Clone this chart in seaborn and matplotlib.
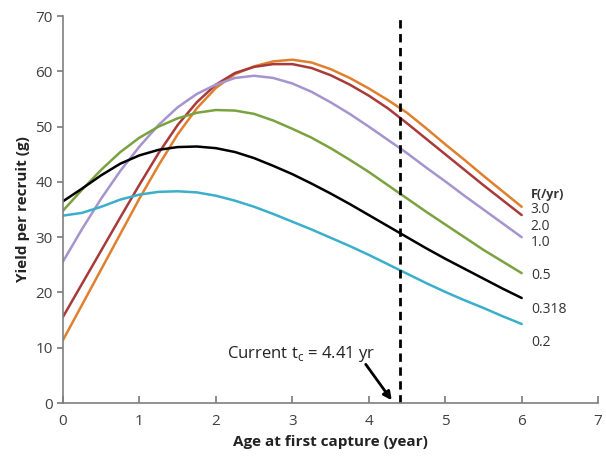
import matplotlib
matplotlib.use("Agg")
import matplotlib.pyplot as plt
import seaborn as sns
import pandas as pd

ages = [0, 0.25, 0.5, 0.75, 1, 1.25, 1.5, 1.75, 2, 2.25, 2.5, 2.75, 3,
        3.25, 3.5, 3.75, 4, 4.25, 4.5, 4.75, 5, 5.25, 5.5, 5.75, 6]
f_3_0 = [11.4, 17.8, 24.2, 30.6, 37.0, 43.0, 48.6, 53.3, 57.0, 59.5, 60.9, 61.8, 62.1,
         61.6, 60.4, 58.8, 56.9, 54.8, 52.5, 49.7, 46.8, 44.0, 41.1, 38.3, 35.5]
f_2_0 = [15.6, 21.6, 27.6, 33.6, 39.5, 45.2, 50.3, 54.4, 57.6, 59.7, 60.8, 61.3, 61.3,
         60.6, 59.3, 57.6, 55.6, 53.3, 50.6, 47.8, 45.0, 42.2, 39.4, 36.7, 34.0]
f_1_0 = [25.6, 31.5, 37.0, 42.0, 46.4, 50.3, 53.5, 55.9, 57.6, 58.8, 59.2, 58.8, 57.8,
         56.3, 54.4, 52.3, 50.0, 47.6, 45.2, 42.6, 40.1, 37.5, 35.0, 32.5, 30.0]
f_0_5 = [34.8, 38.6, 42.2, 45.4, 48.0, 50.0, 51.5, 52.5, 53.0, 52.9, 52.3, 51.1, 49.6,
         48.0, 46.1, 44.0, 41.8, 39.4, 37.0, 34.6, 32.3, 30.0, 27.7, 25.6, 23.5]
f_0_318 = [36.5, 38.8, 41.2, 43.3, 44.8, 45.8, 46.3, 46.4, 46.1, 45.4, 44.3, 42.9, 41.4,
           39.7, 37.9, 36.0, 34.0, 32.0, 30.0, 28.0, 26.1, 24.3, 22.5, 20.7, 19.0]
f_0_2 = [33.9, 34.4, 35.5, 36.8, 37.7, 38.2, 38.3, 38.1, 37.5, 36.6, 35.5, 34.2, 32.8,
         31.4, 29.9, 28.4, 26.8, 25.1, 23.4, 21.7, 20.1, 18.6, 17.2, 15.7, 14.3]

series_names = ["3.0", "2.0", "1.0", "0.5", "0.318", "0.2"]
series_vals = [f_3_0, f_2_0, f_1_0, f_0_5, f_0_318, f_0_2]
colors = ["#E0802F", "#A83A3A", "#A594CE", "#7BA23F", "#000000", "#3AAFCB"]
label_y = [35.0, 32.0, 29.0, 23.0, 17.0, 11.0]
current_tc = 4.41

sns.set_theme(style="white")
plt.rcParams['font.family'] = ['Open Sans', 'DejaVu Sans']

rows = []
for name, vals in zip(series_names, series_vals):
    for a, v in zip(ages, vals):
        rows.append({"age": a, "ypr": v, "F": name})
df = pd.DataFrame(rows)

fig = plt.figure(figsize=(6.06, 4.58), dpi=100)
ax = fig.add_axes([0.104, 0.12, 0.883, 0.845])

sns.lineplot(data=df, x="age", y="ypr", hue="F", palette=dict(zip(series_names, colors)),
             hue_order=series_names, linewidth=1.8, legend=False, ax=ax)

ax.axvline(current_tc, color="black", linestyle=(0, (3, 2)), linewidth=2)

ax.set_xlim(0, 7)
ax.set_ylim(0, 70)
ax.set_xticks(range(0, 8))
ax.set_yticks(range(0, 71, 10))
ax.set_xlabel("Age at first capture (year)", fontsize=11, fontweight="bold", color="#222222")
ax.set_ylabel("Yield per recruit (g)", fontsize=11, fontweight="bold", color="#222222")
for s in ["top", "right"]:
    ax.spines[s].set_visible(False)
for s in ["left", "bottom"]:
    ax.spines[s].set_color("#7f7f7f")
    ax.spines[s].set_linewidth(1.2)
ax.tick_params(axis="y", direction="out", length=4, color="#7f7f7f", labelsize=11, labelcolor="#404040", left=True)
ax.tick_params(axis="x", direction="in", length=5, color="#7f7f7f", labelsize=11, labelcolor="#404040", bottom=True, pad=8)

ax.text(6.12, 37.8, "F(/yr)", fontsize=9, fontweight="bold", color="#333333", va="center")
for name, ly in zip(series_names, label_y):
    ax.text(6.12, ly, name, fontsize=10, color="#333333", va="center")

ax.text(2.15, 8.8, r"Current t$_\mathregular{c}$ = 4.41 yr", fontsize=12, color="#222222", va="center")
ax.annotate("", xy=(4.30, 0.5), xytext=(3.96, 7.0),
            arrowprops=dict(arrowstyle="-|>", color="black", lw=2, mutation_scale=12,
                            shrinkA=0, shrinkB=0))

fig.savefig("out.png", dpi=100)
